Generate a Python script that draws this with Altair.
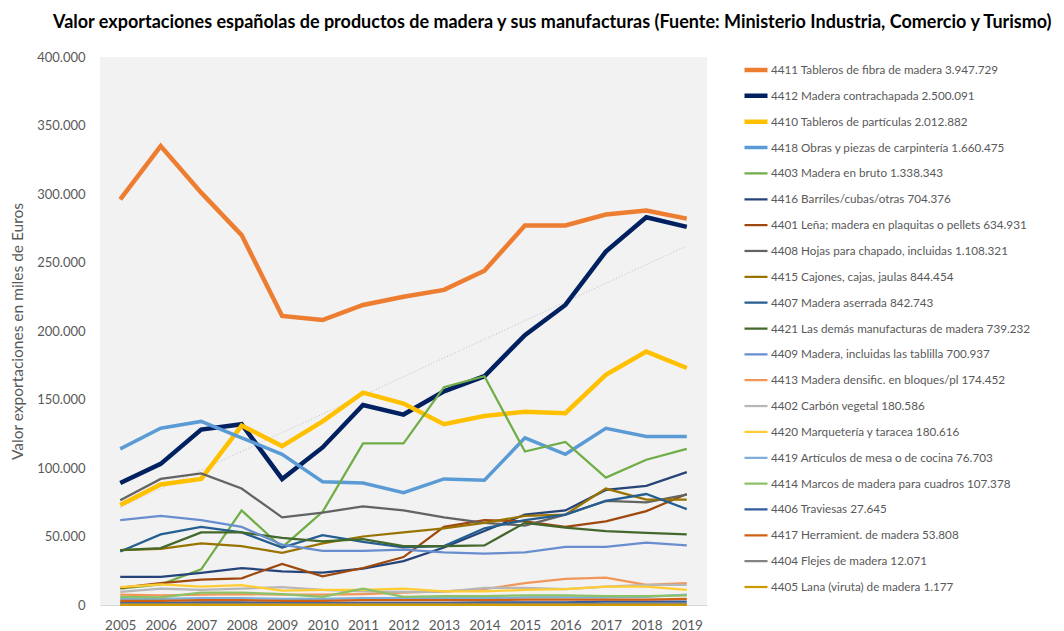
import altair as alt
import pandas as pd

# ---------------- data (thousands of euros) ----------------
years = list(range(2005, 2020))

series_names = [
    "4411 Tableros de fibra de madera 3.947.729",
    "4412 Madera contrachapada 2.500.091",
    "4410 Tableros de partículas 2.012.882",
    "4418 Obras y piezas de carpintería 1.660.475",
    "4403 Madera en bruto 1.338.343",
    "4416 Barriles/cubas/otras 704.376",
    "4401 Leña; madera en plaquitas o pellets 634.931",
    "4408 Hojas para chapado, incluidas 1.108.321",
    "4415 Cajones, cajas, jaulas 844.454",
    "4407 Madera aserrada 842.743",
    "4421 Las demás manufacturas de madera 739.232",
    "4409 Madera, incluidas las tablilla 700.937",
    "4413 Madera densific. en bloques/pl 174.452",
    "4402 Carbón vegetal 180.586",
    "4420 Marquetería y taracea 180.616",
    "4419 Artículos de mesa o de cocina 76.703",
    "4414 Marcos de madera para cuadros 107.378",
    "4406 Traviesas 27.645",
    "4417 Herramient. de madera 53.808",
    "4404 Flejes de madera 12.071",
    "4405 Lana (viruta) de madera 1.177",
]

s4411 = [296, 335, 301, 270, 211, 208, 219, 225, 230, 244, 277, 277, 285, 288, 282]
s4412 = [89, 103, 128, 132, 92, 115, 146, 139, 156, 167, 197, 219, 258, 283, 276]
s4410 = [73, 88, 92, 131, 116, 134, 155, 147, 132, 138, 141, 140, 168, 185, 173]
s4418 = [114, 129, 134, 122, 110, 90, 89, 82, 92, 91, 122, 110, 129, 123, 123]
s4403 = [12, 15, 26, 69, 42, 68, 118, 118, 159, 167, 112, 119, 93, 106, 114]
s4416 = [20.5, 20.5, 23.5, 27, 24.5, 23.7, 26.5, 32, 42, 54, 66, 69, 84, 87, 97]
s4401 = [12.5, 16, 18.5, 19.5, 30, 21, 27, 35, 57, 62, 61, 57, 61, 68.5, 81]
s4408 = [76.5, 92, 96, 85, 64, 67.5, 72, 69, 64, 60, 58, 66, 76, 75, 80.5]
s4415 = [40, 41, 45, 43, 38, 45, 50, 53, 56, 60, 65, 66, 85, 77, 77]
s4407 = [39, 51.5, 57, 53, 42, 51, 46, 42, 43, 56, 62, 66, 76, 81, 70]
s4421 = [40, 41.5, 53, 53, 49, 46.5, 48, 43, 43, 43.5, 60, 56.5, 54, 52.6, 51.5]
s4409 = [62, 65, 62, 57, 44, 39.5, 39.5, 40.5, 38.5, 37.5, 38.5, 42.5, 42.5, 45.5, 43.5]
s4413 = [7.5, 7, 7.5, 8, 7.5, 7.5, 8, 9, 10, 11.5, 16, 19, 20, 14.7, 16]
s4402 = [9.5, 12, 11, 12, 13, 11, 10, 9.5, 9.5, 12.5, 12.5, 11.5, 13.5, 14.7, 14.7]
s4420 = [13, 15, 13.5, 14.5, 10.5, 11, 11, 12, 10, 10, 11, 11.5, 13.5, 13.5, 11]
s4419 = [4.5, 4.5, 5, 5, 4.5, 4.5, 5, 5, 5, 5, 5.5, 5.5, 5.5, 6, 7.5]
s4414 = [6, 5.5, 9, 9, 8, 6, 12, 6, 6.5, 6.5, 7, 7, 6.5, 6.5, 7]
s4406 = [1.5, 1.5, 2, 2, 1.5, 1.5, 1.5, 1.5, 1.5, 2, 2, 2, 2.5, 2.5, 2.5]
s4417 = [3, 3, 3.5, 3.5, 3, 3, 3.5, 3.5, 3.5, 3.5, 4, 4, 4, 4, 4.5]
s4404 = [0.8, 0.8, 0.8, 0.8, 0.8, 0.8, 0.8, 0.8, 0.8, 0.8, 0.8, 0.8, 0.8, 0.8, 0.8]
s4405 = [0.1, 0.1, 0.1, 0.1, 0.1, 0.1, 0.1, 0.1, 0.1, 0.1, 0.1, 0.1, 0.1, 0.1, 0.1]

all_series = [s4411, s4412, s4410, s4418, s4403, s4416, s4401, s4408, s4415,
              s4407, s4421, s4409, s4413, s4402, s4420, s4419, s4414, s4406,
              s4417, s4404, s4405]

y_ticks = [0, 50000, 100000, 150000, 200000, 250000, 300000, 350000, 400000]

rows = []
for name, vals in zip(series_names, all_series):
    for yr, v in zip(years, vals):
        rows.append({"serie": name, "year": yr, "valor": v * 1000})
df = pd.DataFrame(rows)

# ---------------- styles ----------------
colors = ["#ed7d31", "#002060", "#ffc000", "#5b9bd5", "#70ad47", "#264478",
          "#9e480e", "#636363", "#997300", "#255e91", "#43682b", "#698ed0",
          "#f1975a", "#b7b7b7", "#ffcd33", "#7cafdd", "#8cc168", "#335aa1",
          "#d26012", "#848484", "#cc9a00"]
widths = [4.5, 4.5, 4.5, 3.5] + [2.25] * 17

FONT = "Lato"
GREY = "#595959"

x_enc = alt.X("year:O", title=None,
              axis=alt.Axis(labelAngle=0, ticks=False, grid=False,
                            domainColor="#d9d9d9", labelColor=GREY,
                            labelFont=FONT, labelFontSize=13.5, labelPadding=13))

y_enc = alt.Y("valor:Q",
              scale=alt.Scale(domain=[0, 400000], nice=False),
              axis=alt.Axis(values=y_ticks, grid=False, ticks=False, domain=False,
                            labelExpr="datum.value == 0 ? '0' : format(datum.value / 1000, 'd') + '.000'",
                            labelColor=GREY, labelFont=FONT, labelFontSize=13,
                            labelPadding=15,
                            title="Valor exportaciones en miles de Euros",
                            titleColor=GREY, titleFont=FONT, titleFontSize=15.5,
                            titleFontWeight="normal", titlePadding=11))

legend_props = dict(title=None, orient="none", legendX=642, legendY=5,
                    symbolType="stroke", symbolSize=529, clipHeight=16,
                    labelFont=FONT, labelFontSize=11.7, labelColor=GREY,
                    labelLimit=400, rowPadding=9.85, labelOffset=1)

trend = alt.Chart(df).transform_filter(
    alt.datum.serie == series_names[1]
).transform_regression("year", "valor").mark_line(
    color="#bfbfbf", strokeDash=[1, 2], strokeWidth=1
).encode(x=x_enc, y=y_enc)

lines = alt.Chart(df).mark_line().encode(
    x=x_enc,
    y=y_enc,
    color=alt.Color("serie:N", sort=series_names,
                    scale=alt.Scale(domain=series_names, range=colors),
                    legend=alt.Legend(**legend_props)),
    strokeWidth=alt.StrokeWidth("serie:N", sort=series_names,
                                scale=alt.Scale(type="ordinal", domain=series_names, range=widths),
                                legend=alt.Legend(**legend_props)),
)

chart = alt.layer(trend, lines).properties(
    width=607,
    height=548,
    autosize=alt.AutoSizeParams(type="none"),
    padding={"left": 92, "top": 49, "right": 349, "bottom": 28},
    background="white",
    title=alt.TitleParams(
        "Valor exportaciones españolas de productos de madera y sus manufacturas (Fuente: Ministerio Industria, Comercio y Turismo)",
        anchor="start", frame="group", dx=-47, offset=19,
        font=FONT, fontSize=18, fontWeight="bold", color="#000000"),
).configure_view(fill="#f2f2f2", stroke=None)

chart.save("out.html", embed_options={"renderer": "svg", "actions": False})
